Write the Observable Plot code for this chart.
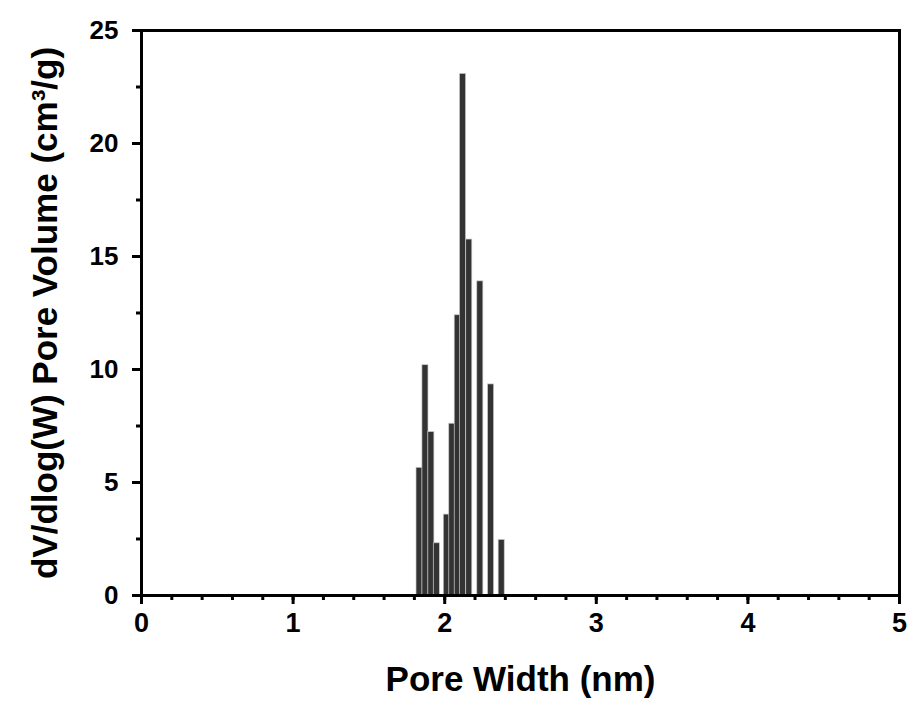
<!DOCTYPE html>
<html>
<head>
<meta charset="utf-8">
<script src="https://cdn.jsdelivr.net/npm/d3@7"></script>
<script src="https://cdn.jsdelivr.net/npm/@observablehq/plot@0.6"></script>
<style>
  html, body { margin: 0; padding: 0; background: #fff; }
  svg { display: block; }
</style>
</head>
<body>
<div id="chart"></div>
<script>
// Pore width (nm) bar centers and dV/dlog(W) values (cm3/g)
const poreWidth = [1.834, 1.873, 1.912, 1.948, 2.014, 2.050, 2.086, 2.121, 2.162, 2.235, 2.306, 2.376];
const poreVolume = [5.65, 10.19, 7.23, 2.31, 3.58, 7.6, 12.4, 23.08, 15.75, 13.9, 9.34, 2.46];
const xMajorTicks = [0, 1, 2, 3, 4, 5];
const xMinorTicks = d3.range(0, 5.001, 0.2).map(v => +v.toFixed(1));
const yMajorTicks = [0, 5, 10, 15, 20, 25];
const yMinorTicks = d3.range(0, 25.001, 2.5);
const xLabel = "Pore Width (nm)";
const yLabel = "dV/dlog(W) Pore Volume (cm³/g)";

const halfWidth = 0.02;
const data = poreWidth.map((w, i) => ({x1: w - halfWidth, x2: w + halfWidth, v: poreVolume[i]}));

const font = "Liberation Sans, Arial, Helvetica, sans-serif";

const chart = Plot.plot({
  width: 911,
  height: 702,
  marginLeft: 141,
  marginRight: 12,
  marginTop: 30,
  marginBottom: 107,
  style: {fontFamily: font, fontWeight: "bold", color: "#000", background: "#fff"},
  x: {domain: [0, 5]},
  y: {domain: [0, 25]},
  marks: [
    Plot.rectY(data, {x1: "x1", x2: "x2", y: "v", fill: "#333333", stroke: "#c8c8c8", strokeWidth: 0.7}),
    Plot.frame({stroke: "#000", strokeWidth: 3}),
    Plot.axisX({ticks: xMinorTicks, tickSize: 5, text: null, label: null, strokeWidth: 3}),
    Plot.axisX({ticks: xMajorTicks, tickSize: 9, tickPadding: 8, strokeWidth: 3, fontSize: 27, fontFamily: font, fontWeight: "bold", label: null, tickFormat: d => String(d)}),
    Plot.axisY({ticks: yMinorTicks, tickSize: 5, text: null, label: null, strokeWidth: 3}),
    Plot.axisY({ticks: yMajorTicks, tickSize: 9, tickPadding: 14, strokeWidth: 3, fontSize: 26, fontFamily: font, fontWeight: "bold", label: null, tickFormat: d => String(d)}),
    Plot.text([xLabel], {frameAnchor: "bottom", dy: 84, lineAnchor: "middle", textAnchor: "middle", fontSize: 35, fontFamily: font, fontWeight: "bold", fill: "#000"}),
    Plot.text([yLabel], {frameAnchor: "left", dx: -96, rotate: -90, lineAnchor: "middle", textAnchor: "middle", fontSize: 35, fontFamily: font, fontWeight: "bold", fill: "#000"})
  ]
});
document.getElementById("chart").appendChild(chart);
</script>
</body>
</html>
